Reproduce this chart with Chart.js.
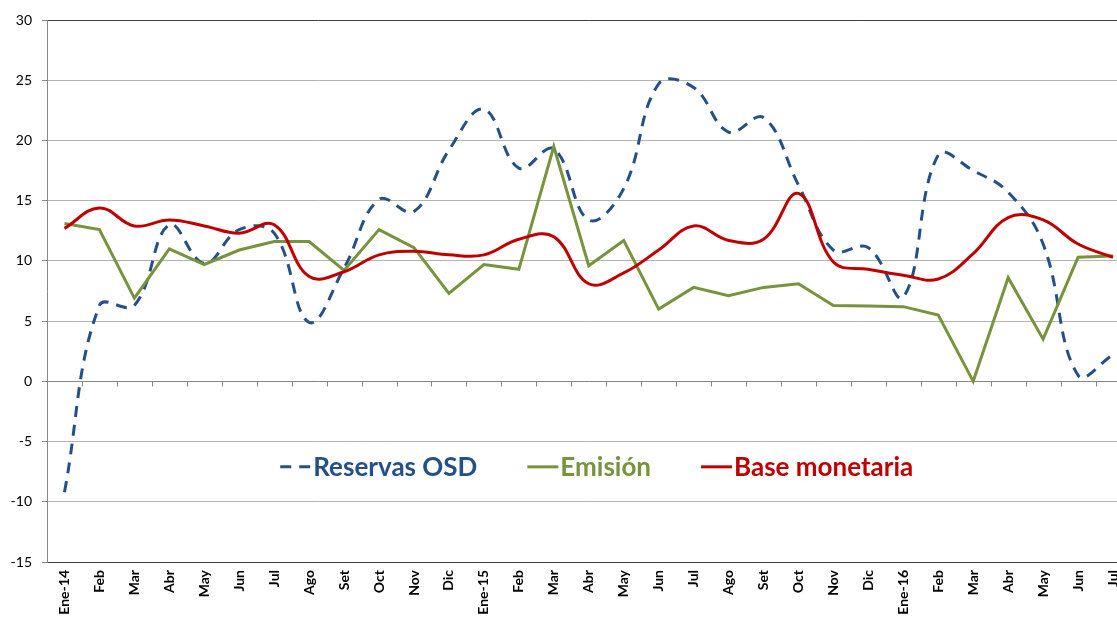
<!DOCTYPE html>
<html>
<head>
<meta charset="utf-8">
<script src="https://cdn.jsdelivr.net/npm/chart.js@4.4.0/dist/chart.umd.min.js"></script>
<style>
  html, body { margin: 0; padding: 0; overflow: hidden; background: #fff; }
  #wrap { position: relative; width: 1145px; height: 640px; }
</style>
</head>
<body>
<div id="wrap"><canvas id="chart"></canvas></div>
<script>
// monthly variation, %
const labels = ['Ene-14','Feb','Mar','Abr','May','Jun','Jul','Ago','Set','Oct','Nov','Dic',
                'Ene-15','Feb','Mar','Abr','May','Jun','Jul','Ago','Set','Oct','Nov','Dic',
                'Ene-16','Feb','Mar','Abr','May','Jun','Jul']
const reservas = [-9.2, 6.3, 6.3, 13.0, 9.8, 12.6, 12.3, 4.9, 9.4, 15.1, 14.1, 19.2,
                  22.6, 17.7, 19.3, 13.4, 16.0, 24.7, 24.4, 20.7, 21.9, 16.3, 10.9, 11.1,
                  7.0, 18.8, 17.5, 15.7, 11.4, 0.5, 2.2]
const emision = [13.1, 12.6, 6.9, 11.0, 9.7, 10.9, 11.6, 11.6, 9.2, 12.6, 11.1, 7.3,
                 9.7, 9.3, 19.5, 9.6, 11.7, 6.0, 7.8, 7.1, 7.8, 8.1, 6.3, 6.25,
                 6.2, 5.5, 0.0, 8.6, 3.5, 10.3, 10.4]
const baseMonetaria = [12.7, 14.4, 12.9, 13.4, 12.9, 12.3, 13.0, 8.7, 9.1, 10.5, 10.8, 10.5,
                       10.5, 11.8, 12.0, 8.1, 9.0, 10.9, 12.9, 11.7, 11.8, 15.6, 9.9, 9.3,
                       8.8, 8.5, 10.6, 13.6, 13.4, 11.4, 10.3]
const yTicks = { min: -15, max: 30, step: 5 }

const BLUE = '#24508a', GREEN = '#77933c', RED = '#c00000'

// small tick marks hanging under the zero line, between categories
const zeroTicks = {
  id: 'zeroTicks',
  beforeDatasetsDraw(chart) {
    const { ctx, scales: { x, y } } = chart
    const y0 = Math.round(y.getPixelForValue(0)) + 0.5
    const half = (x.getPixelForValue(1) - x.getPixelForValue(0)) / 2
    ctx.save()
    ctx.strokeStyle = '#868686'
    ctx.lineWidth = 1
    ctx.beginPath()
    for (let i = 0; i < labels.length; i++) {
      const px = Math.round(x.getPixelForValue(i) + half) + 0.5
      ctx.moveTo(px, y0)
      ctx.lineTo(px, y0 + 5)
    }
    ctx.stroke()
    ctx.restore()
  }
}

// legend drawn inside the plot, text in series colour
const inLegend = {
  id: 'inLegend',
  afterDraw(chart) {
    const { ctx, chartArea, scales: { y } } = chart
    const font = 'bold 26px Lato'
    const sample = 31, gap = 2, spacing = 50
    ctx.save()
    ctx.font = font
    const items = chart.data.datasets.map(ds => ({ ds, w: ctx.measureText(ds.label).width }))
    const total = items.reduce((s, it) => s + sample + gap + it.w, 0) + spacing * (items.length - 1)
    let cx = (chartArea.left + chartArea.right) / 2 + 8 - total / 2
    const cy = y.getPixelForValue(-7.1)
    ctx.textBaseline = 'middle'
    items.forEach(({ ds, w }) => {
      ctx.strokeStyle = ds.borderColor
      ctx.lineWidth = 3
      ctx.setLineDash(ds.borderDash || [])
      ctx.beginPath()
      ctx.moveTo(cx, cy)
      ctx.lineTo(cx + sample, cy)
      ctx.stroke()
      ctx.setLineDash([])
      ctx.fillStyle = ds.borderColor
      ctx.fillText(ds.label, cx + sample + gap, cy + 1)
      cx += sample + gap + w + spacing
    })
    ctx.restore()
  }
}

new Chart(document.getElementById('chart'), {
  type: 'line',
  data: {
    labels: labels,
    datasets: [
      {
        label: 'Reservas OSD',
        data: reservas,
        borderColor: BLUE,
        borderWidth: 3,
        borderDash: [11, 8],
        tension: 0.4,
        pointRadius: 0,
        order: 3
      },
      {
        label: 'Emisión',
        data: emision,
        borderColor: GREEN,
        borderWidth: 3,
        tension: 0,
        pointRadius: 0,
        order: 2
      },
      {
        label: 'Base monetaria',
        data: baseMonetaria,
        borderColor: RED,
        borderWidth: 3,
        tension: 0.4,
        pointRadius: 0,
        order: 1
      }
    ]
  },
  options: {
    responsive: true,
    maintainAspectRatio: false,
    animation: false,
    layout: { padding: { top: 20, right: 14.5, left: 0, bottom: 0 } },
    plugins: { legend: { display: false }, tooltip: { enabled: false } },
    scales: {
      x: {
        type: 'category',
        offset: true,
        grid: { display: false, drawTicks: false },
        border: { display: true, color: '#404040', width: 1 },
        ticks: {
          autoSkip: false,
          minRotation: 90,
          maxRotation: 90,
          padding: 8,
          color: '#000',
          font: { family: 'Lato', size: 14, weight: 'bold' }
        },
        afterFit(scale) { scale.height = 78 }
      },
      y: {
        min: yTicks.min,
        max: yTicks.max,
        ticks: {
          stepSize: yTicks.step,
          padding: 10,
          color: '#000',
          font: { family: 'Lato', size: 14 }
        },
        grid: {
          color: c => c.tick.value === 0 ? '#868686' : (c.tick.value === yTicks.max ? '#404040' : '#b4b4b4'),
          tickColor: '#868686',
          tickLength: 5
        },
        border: { color: '#868686', width: 1 },
        afterFit(scale) { scale.width = 47 }
      }
    }
  },
  plugins: [zeroTicks, inLegend]
})
</script>
</body>
</html>
